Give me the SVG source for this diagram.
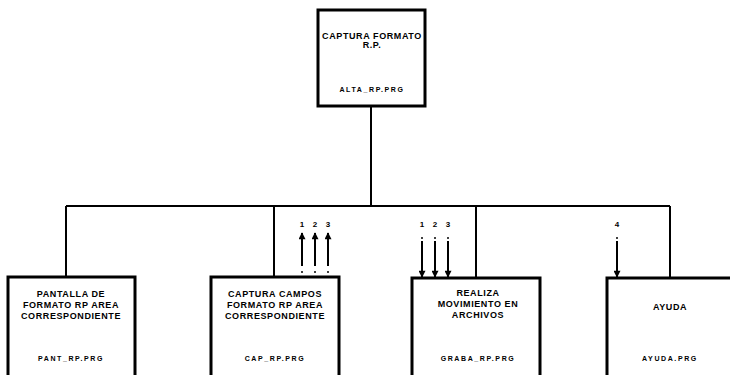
<svg xmlns="http://www.w3.org/2000/svg" width="730" height="375" viewBox="0 0 730 375">
<defs>
<style>
.box{fill:#fff;stroke:#000;stroke-width:3}
.ln{stroke:#000;stroke-width:2;fill:none}
.ar{stroke:#000;stroke-width:2;fill:none;marker-end:url(#ah)}
.t{font-family:"Liberation Sans",Arial,sans-serif;font-weight:bold;font-size:9px;letter-spacing:0.6px;text-anchor:middle;fill:#000}
.f{font-family:"Liberation Sans",Arial,sans-serif;font-weight:bold;font-size:7px;letter-spacing:1.6px;text-anchor:middle;fill:#000}
.n{font-family:"Liberation Sans",Arial,sans-serif;font-weight:bold;font-size:8px;text-anchor:middle;fill:#000}
</style>
<marker id="ah" viewBox="0 0 10 10" refX="9" refY="5" markerWidth="5" markerHeight="3.5" orient="auto">
<path d="M0,0 L10,5 L0,10 z" fill="#000"/>
</marker>
</defs>
<rect width="730" height="375" fill="#fff"/>
<g id="connectors">
<path class="ln" d="M371,106 V206 M66,206 H670 M66,206 V277 M274,206 V277 M476,206 V277 M670,206 V277"/>
<line class="ar" x1="302" y1="266" x2="302" y2="233"/>
<line class="ar" x1="315" y1="266" x2="315" y2="233"/>
<line class="ar" x1="328" y1="266" x2="328" y2="233"/>
<line class="ar" x1="422" y1="241" x2="422" y2="277"/>
<line class="ar" x1="435" y1="241" x2="435" y2="277"/>
<line class="ar" x1="448" y1="241" x2="448" y2="277"/>
<line class="ar" x1="617" y1="241" x2="617" y2="277"/>
<g fill="#000">
<circle cx="302" cy="272" r="1"/><circle cx="315" cy="272" r="1"/><circle cx="328" cy="272" r="1"/>
<circle cx="422" cy="238" r="1"/><circle cx="435" cy="238" r="1"/><circle cx="448" cy="238" r="1"/>
<circle cx="617" cy="238" r="1"/>
</g>
<text class="n" x="302" y="227">1</text>
<text class="n" x="315" y="227">2</text>
<text class="n" x="328" y="227">3</text>
<text class="n" x="422" y="227">1</text>
<text class="n" x="435" y="227">2</text>
<text class="n" x="448" y="227">3</text>
<text class="n" x="617" y="227">4</text>
</g>
<g id="n0">
<rect class="box" x="318" y="10" width="107" height="96"/>
<text class="t" x="372" y="39">CAPTURA FORMATO</text>
<text class="t" x="372" y="48">R.P.</text>
<text class="f" x="372" y="92">ALTA_RP.PRG</text>
</g>
<g id="n1">
<rect class="box" x="8" y="277" width="127" height="110"/>
<text class="t" x="71" y="297">PANTALLA DE</text>
<text class="t" x="71" y="308">FORMATO RP AREA</text>
<text class="t" x="71" y="319">CORRESPONDIENTE</text>
<text class="f" x="71" y="361">PANT_RP.PRG</text>
</g>
<g id="n2">
<rect class="box" x="211" y="277" width="128" height="110"/>
<text class="t" x="275" y="297">CAPTURA  CAMPOS</text>
<text class="t" x="275" y="308">FORMATO RP AREA</text>
<text class="t" x="275" y="319">CORRESPONDIENTE</text>
<text class="f" x="275" y="361">CAP_RP.PRG</text>
</g>
<g id="n3">
<rect class="box" x="412" y="278" width="128" height="110"/>
<text class="t" x="478" y="296">REALIZA</text>
<text class="t" x="478" y="307">MOVIMIENTO EN</text>
<text class="t" x="478" y="318">ARCHIVOS</text>
<text class="f" x="478" y="361">GRABA_RP.PRG</text>
</g>
<g id="n4">
<rect class="box" x="607" y="278" width="140" height="110"/>
<text class="t" x="670" y="310">AYUDA</text>
<text class="f" x="670" y="361">AYUDA.PRG</text>
</g>
</svg>
